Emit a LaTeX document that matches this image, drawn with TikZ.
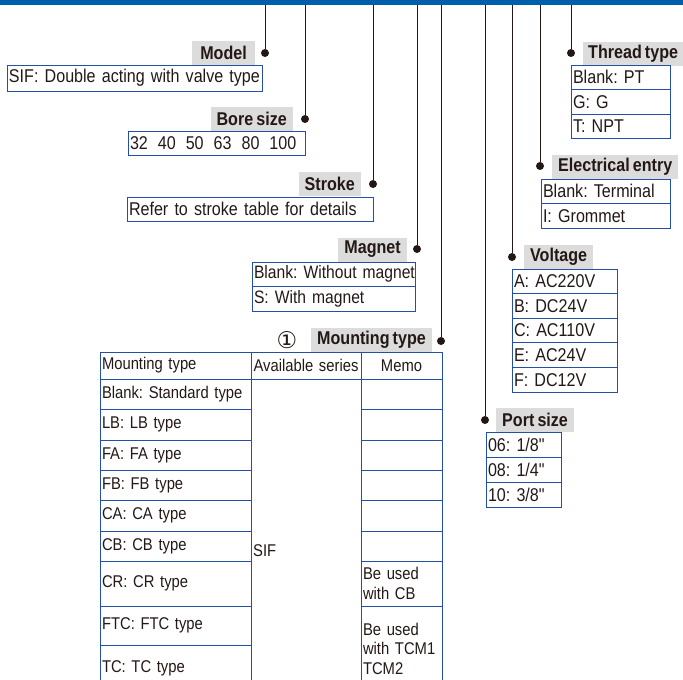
\documentclass[tikz,border=0pt]{standalone}
\usepackage{fontspec}
\setmainfont{Liberation Sans}[FakeStretch=0.87, WordSpace=0.7]
\newfontfamily\rawfont{Liberation Sans}[FakeStretch=0.87]
\newfontfamily\circfont{DejaVu Sans}
\usetikzlibrary{positioning}

\definecolor{barblue}{RGB}{0,94,170}
\definecolor{tblue}{RGB}{35,80,165}
\definecolor{lgray}{RGB}{220,220,220}
\definecolor{dark}{RGB}{35,24,21}

\newcommand{\boxtxt}{\fontsize{18.5}{20}\selectfont}
\newcommand{\lbltxt}{\fontsize{18.5}{20}\selectfont}
\newcommand{\tabtxt}{\fontsize{17}{19.5}\selectfont}
\newcommand{\inch}{{\rawfont"}}
\newcommand{\gap}{\hspace{10pt}}

\begin{document}
\frenchspacing
\begin{tikzpicture}[x=1pt,y=-1pt,
    lead/.style={draw=dark, line width=0.8pt},
    dot/.style={circle, fill=dark, inner sep=0pt, minimum size=8pt},
    lbl/.style={fill=lgray, text=dark, font=\lbltxt\bfseries, inner xsep=6pt, inner ysep=0pt, minimum height=24pt},
    cell/.style={draw=tblue, line width=1pt, outer sep=0pt, text=dark, font=\boxtxt, inner xsep=2pt, inner ysep=0pt, minimum height=24.6pt, align=left, text width=#1,
        execute at begin node={\leavevmode\hbox\bgroup}, execute at end node={\egroup}},
    tcell/.style={cell=#1, font=\tabtxt},
    mcell/.style={draw=tblue, line width=1pt, outer sep=0pt, text=dark, font=\tabtxt, inner xsep=2pt, inner ysep=0pt, align=left, text width=#1}]
    \useasboundingbox (0,0) rectangle (683,680);

    % Top bar
    \fill[barblue] (0,0) rectangle (683,5);

    % Model
    \coordinate (mdltop) at (265,5);
    \node[dot] (mdldot) at (265,53) {};
    \node[lbl, inner xsep=8pt, anchor=east] (mdl) at (255,53) {Model};
    \node[cell=251pt, minimum height=26pt, anchor=north west] (mdl1) at (7,65) {SIF: Double acting with valve type};

    % Bore size
    \coordinate (bortop) at (305,5);
    \node[dot] (bordot) at (305,119) {};
    \node[lbl, anchor=east] (bor) at (293,119) {Bore size};
    \node[cell=173pt, anchor=north west] (bor1) at (128,131) {32\gap40\gap50\gap63\gap80\gap100};

    % Stroke
    \coordinate (strtop) at (373,5);
    \node[dot] (strdot) at (373,184) {};
    \node[lbl, anchor=east] (str) at (361,184) {Stroke};
    \node[cell=242pt, anchor=north west] (str1) at (127,197) {Refer to stroke table for details};

    % Magnet
    \coordinate (magtop) at (417,5);
    \node[dot] (magdot) at (417,249) {};
    \node[lbl, anchor=east] (mag) at (407,249.5) {Magnet};
    \node[cell=159pt, font=\fontsize{18}{20}\selectfont, anchor=north west] (mag1) at (252,262) {Blank: Without magnet};
    \node[cell=159pt, font=\fontsize{18}{20}\selectfont, below=0pt of mag1] (mag2) {S: With magnet};

    % Mounting type
    \coordinate (mnttop) at (441,5);
    \node[dot] (mntdot) at (441,341) {};
    \node[lbl, anchor=east] (mnt) at (432,340) {Mounting type};
    \node[text=dark, font=\circfont\fontsize{23}{24}\selectfont, inner sep=0pt] (mntno) at (287,340) {①};

    % Port size
    \coordinate (prttop) at (485,5);
    \node[dot] (prtdot) at (485,420) {};
    \node[lbl, anchor=west] (prt) at (496,419.5) {Port size};
    \node[cell=71pt, minimum height=25pt, anchor=north west] (prt1) at (486,432) {06: 1/8\inch};
    \node[cell=71pt, minimum height=25pt, below=0pt of prt1] (prt2) {08: 1/4\inch};
    \node[cell=71pt, minimum height=25pt, below=0pt of prt2] (prt3) {10: 3/8\inch};

    % Voltage
    \coordinate (voltop) at (512,5);
    \node[dot] (voldot) at (512,257) {};
    \node[lbl, anchor=west] (vol) at (524,256.5) {Voltage};
    \node[cell=101pt, anchor=north west] (vol1) at (512,269) {A: AC220V};
    \node[cell=101pt, below=0pt of vol1] (vol2) {B: DC24V};
    \node[cell=101pt, below=0pt of vol2] (vol3) {C: AC110V};
    \node[cell=101pt, below=0pt of vol3] (vol4) {E: AC24V};
    \node[cell=101pt, below=0pt of vol4] (vol5) {F: DC12V};

    % Electrical entry
    \coordinate (eletop) at (540,5);
    \node[dot] (eledot) at (540,166) {};
    \node[lbl, anchor=west] (ele) at (552,166.5) {Electrical entry};
    \node[cell=125pt, anchor=north west] (ele1) at (541,179) {Blank: Terminal};
    \node[cell=125pt, below=0pt of ele1] (ele2) {I: Grommet};

    % Thread type
    \coordinate (thrtop) at (571,5);
    \node[dot] (thrdot) at (571,53) {};
    \node[lbl, inner xsep=5pt, anchor=west] (thr) at (583,53.5) {Thread type};
    \node[cell=95pt, anchor=north west] (thr1) at (571,65) {Blank: PT};
    \node[cell=95pt, below=0pt of thr1] (thr2) {G: G};
    \node[cell=95pt, below=0pt of thr2] (thr3) {T: NPT};

    % Leader lines
    \draw[lead] (mdltop) -- (mdldot);
    \draw[lead] (bortop) -- (bordot);
    \draw[lead] (strtop) -- (strdot);
    \draw[lead] (magtop) -- (magdot);
    \draw[lead] (mnttop) -- (mntdot);
    \draw[lead] (prttop) -- (prtdot);
    \draw[lead] (voltop) -- (voldot);
    \draw[lead] (eletop) -- (eledot);
    \draw[lead] (thrtop) -- (thrdot);

    % Mounting table: first column
    \node[tcell=147pt, minimum height=27pt, anchor=north west] (mt0) at (100,352) {Mounting type};
    \node[tcell=147pt, minimum height=30pt, below=0pt of mt0] (mt1) {Blank: Standard type};
    \node[tcell=147pt, minimum height=31pt, below=0pt of mt1] (mt2) {LB: LB type};
    \node[tcell=147pt, minimum height=30pt, below=0pt of mt2] (mt3) {FA: FA type};
    \node[tcell=147pt, minimum height=30pt, below=0pt of mt3] (mt4) {FB: FB type};
    \node[tcell=147pt, minimum height=31pt, below=0pt of mt4] (mt5) {CA: CA type};
    \node[tcell=147pt, minimum height=30pt, below=0pt of mt5] (mt6) {CB: CB type};
    \node[tcell=147pt, minimum height=45pt, below=0pt of mt6] (mt7) {CR: CR type};
    \node[tcell=147pt, minimum height=39pt, below=0pt of mt7] (mt8) {FTC: FTC type};
    \node[tcell=147pt, minimum height=46pt, below=0pt of mt8] (mt9) {TC: TC type};

    % second column
    \node[tcell=108pt, inner xsep=1pt, align=center, minimum height=27pt, anchor=north west] (ser0) at (251,352) {Available series};
    \node[tcell=108pt, inner xsep=1pt, minimum height=312pt, below=0pt of ser0] (ser1) {};
    \node[text=dark, font=\tabtxt, anchor=west, inner sep=1pt] (sif) at (252,551) {SIF};

    % third column
    \node[tcell=77pt, align=center, minimum height=27pt, anchor=north west] (mm0) at (361,352) {Memo};
    \node[tcell=77pt, minimum height=30pt, below=0pt of mm0] (mm1) {};
    \node[tcell=77pt, minimum height=31pt, below=0pt of mm1] (mm2) {};
    \node[tcell=77pt, minimum height=30pt, below=0pt of mm2] (mm3) {};
    \node[tcell=77pt, minimum height=30pt, below=0pt of mm3] (mm4) {};
    \node[tcell=77pt, minimum height=31pt, below=0pt of mm4] (mm5) {};
    \node[tcell=77pt, minimum height=30pt, below=0pt of mm5] (mm6) {};
    \node[mcell=77pt, minimum height=45pt, below=0pt of mm6] (mm7) {Be used\\with CB};
    \node[mcell=77pt, minimum height=85pt, below=0pt of mm7] (mm8) {Be used\\with TCM1\\TCM2};
\end{tikzpicture}
\end{document}
